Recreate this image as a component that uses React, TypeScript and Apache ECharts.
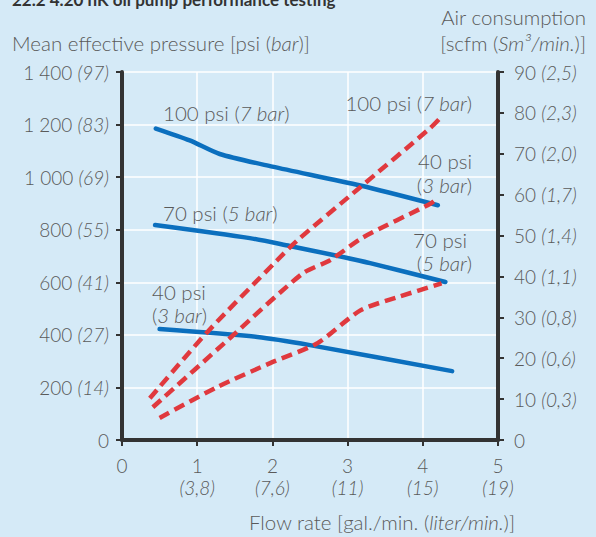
import React, { useEffect, useRef } from "react";
import * as echarts from "echarts";

// Flow rate ticks (gal./min.) and their liter/min. equivalents
const flowTicks = [0, 1, 2, 3, 4, 5];
const flowLiter = ["", "3,8", "7,6", "11", "15", "19"];

// Mean effective pressure ticks (psi) and bar equivalents
const pressureTicks = [0, 200, 400, 600, 800, 1000, 1200, 1400];
const pressureBar = ["", "14", "27", "41", "55", "69", "83", "97"];

// Air consumption ticks (scfm) and Sm3/min equivalents
const airTicks = [0, 10, 20, 30, 40, 50, 60, 70, 80, 90];
const airSm3 = ["", "0,3", "0,6", "0,8", "1,1", "1,4", "1,7", "2,0", "2,3", "2,5"];

// Mean effective pressure curves [flow gal/min, psi]
const mep100: number[][] = [[0.45, 1185], [0.9, 1140], [1.3, 1088], [2.0, 1040], [3.17, 968], [4.2, 893]];
const mep70: number[][] = [[0.44, 818], [1.7, 768], [2.23, 738], [2.81, 704], [3.3, 673], [4.3, 601]];
const mep40: number[][] = [[0.5, 422], [1.8, 392], [2.5, 361], [4.39, 262]];

// Air consumption curves [flow gal/min, scfm]
const air100: number[][] = [[0.37, 10.2], [1.13, 26.3], [2.06, 43.9], [2.33, 48.8], [3.16, 61.7], [4.1, 76.3], [4.22, 78.5]];
const air70: number[][] = [[0.41, 8], [1.44, 25], [2.4, 40.7], [2.77, 44], [3.2, 49.5], [4.1, 57.8], [4.2, 59.2]];
const air40: number[][] = [[0.5, 5.4], [1.26, 12.9], [1.97, 18.8], [2.6, 23.7], [3.17, 31.7], [3.66, 34.9], [4.25, 38.3]];

const FONT = "Lato";
const TXT = "#5a5a5a";
const BLUE = "#0b6fbe";
const RED = "#e0393e";
const AXIS = "#333333";

const fmtThousands = (v: number) => {
  const s = String(v);
  return s.length > 3 ? s.slice(0, s.length - 3) + " " + s.slice(-3) : s;
};

const mkRich = (size: number) => ({
  n: { fontFamily: FONT, fontSize: size, fontWeight: 300, color: TXT },
  i: { fontFamily: FONT, fontSize: size, fontWeight: 300, fontStyle: "italic", color: TXT },
});
const tickRich = mkRich(19);
const textRich = mkRich(20.5);

export default function App() {
  const ref = useRef<HTMLDivElement>(null);
  useEffect(() => {
    if (!ref.current) return;
    const chart = echarts.init(ref.current, undefined, { renderer: "svg" });
    const axisLine = { show: true, lineStyle: { color: AXIS, width: 4 } };
    const axisTick = { show: true, length: 6, lineStyle: { color: AXIS, width: 2 } };
    const blueLine = (name: string, data: number[][]) => ({
      name, type: "line", yAxisIndex: 0, data, symbol: "none", smooth: 0.25,
      lineStyle: { color: BLUE, width: 4.5, cap: "round" }, z: 3,
    });
    const redLine = (name: string, data: number[][]) => ({
      name, type: "line", yAxisIndex: 1, data, symbol: "none", smooth: 0.25,
      lineStyle: { color: RED, width: 4.5, type: [11, 6], cap: "butt" }, z: 4,
    });
    const label = (x: number, y: number, parts: string, align = "left") => ({
      type: "text", x, y, z: 10,
      style: {
        text: parts, align, verticalAlign: "middle",
        fontFamily: FONT, fontSize: 20.5, fontWeight: 300, fill: TXT,
        rich: textRich,
      },
    });
    chart.setOption({
      animation: false,
      backgroundColor: "#d5eaf7",
      grid: { left: 122, right: 98, top: 72, bottom: 97 },
      xAxis: {
        type: "value", min: 0, max: 5, interval: 1,
        axisLine, axisTick,
        splitLine: { show: true, lineStyle: { color: "#ffffff", width: 1.5 } },
        axisLabel: {
          margin: 14, lineHeight: 22,
          formatter: (v: number) => {
            const i = flowTicks.indexOf(v);
            return flowLiter[i] ? `{n|${v}}\n{i|(${flowLiter[i]})}` : `{n|${v}}`;
          },
          rich: { n: { ...tickRich.n, lineHeight: 22 }, i: { ...tickRich.i, lineHeight: 22 } },
        },
      },
      yAxis: [
        {
          type: "value", position: "left", min: 0, max: 1400, interval: 200,
          axisLine, axisTick,
          splitLine: { show: true, lineStyle: { color: "#ffffff", width: 1.5 } },
          axisLabel: {
            margin: 13,
            formatter: (v: number) => {
              const i = pressureTicks.indexOf(v);
              return pressureBar[i] ? `{n|${fmtThousands(v)} }{i|(${pressureBar[i]})}` : `{n|${v}}`;
            },
            rich: tickRich,
          },
        },
        {
          type: "value", position: "right", min: 0, max: 90, interval: 10,
          axisLine, axisTick,
          splitLine: { show: false },
          axisLabel: {
            margin: 16,
            formatter: (v: number) => {
              const i = airTicks.indexOf(v);
              return airSm3[i] ? `{n|${v} }{i|(${airSm3[i]})}` : `{n|${v}}`;
            },
            rich: tickRich,
          },
        },
      ],
      series: [
        blueLine("MEP 100 psi", mep100),
        blueLine("MEP 70 psi", mep70),
        blueLine("MEP 40 psi", mep40),
        redLine("Air 100 psi", air100),
        redLine("Air 70 psi", air70),
        redLine("Air 40 psi", air40),
      ],
      graphic: [
        {
          type: "text", x: 12, y: -9,
          style: { text: "22.2 4.20 hK oil pump performance testing", fontFamily: FONT, fontSize: 17, fontWeight: 700, fill: "#333" },
        },
        label(12, 43, "{n|Mean effective pressure [psi (}{i|bar}{n|)]}"),
        label(586, 17, "{n|Air consumption}", "right"),
        label(586, 43, "{n|[scfm (}{i|Sm³/min.}{n|)]}", "right"),
        label(515, 522, "{n|Flow rate [gal./min. (}{i|liter/min.}{n|)]}", "right"),
        label(163, 113, "{n|100 psi (}{i|7 bar}{n|)}"),
        label(163, 213, "{n|70 psi (}{i|5 bar}{n|)}"),
        label(152, 292, "{n|40 psi}"),
        label(152, 315, "{n|(}{i|3 bar}{n|)}"),
        label(472, 103, "{n|100 psi (}{i|7 bar}{n|)}", "right"),
        label(472, 161, "{n|40 psi}", "right"),
        label(472, 185, "{n|(}{i|3 bar}{n|)}", "right"),
        label(467, 240, "{n|70 psi}", "right"),
        label(472, 263, "{n|(}{i|5 bar}{n|)}", "right"),
      ],
    });
    return () => chart.dispose();
  }, []);
  return <div ref={ref} style={{ width: 596, height: 537, position: "absolute", left: 0, top: 0 }} />;
}
